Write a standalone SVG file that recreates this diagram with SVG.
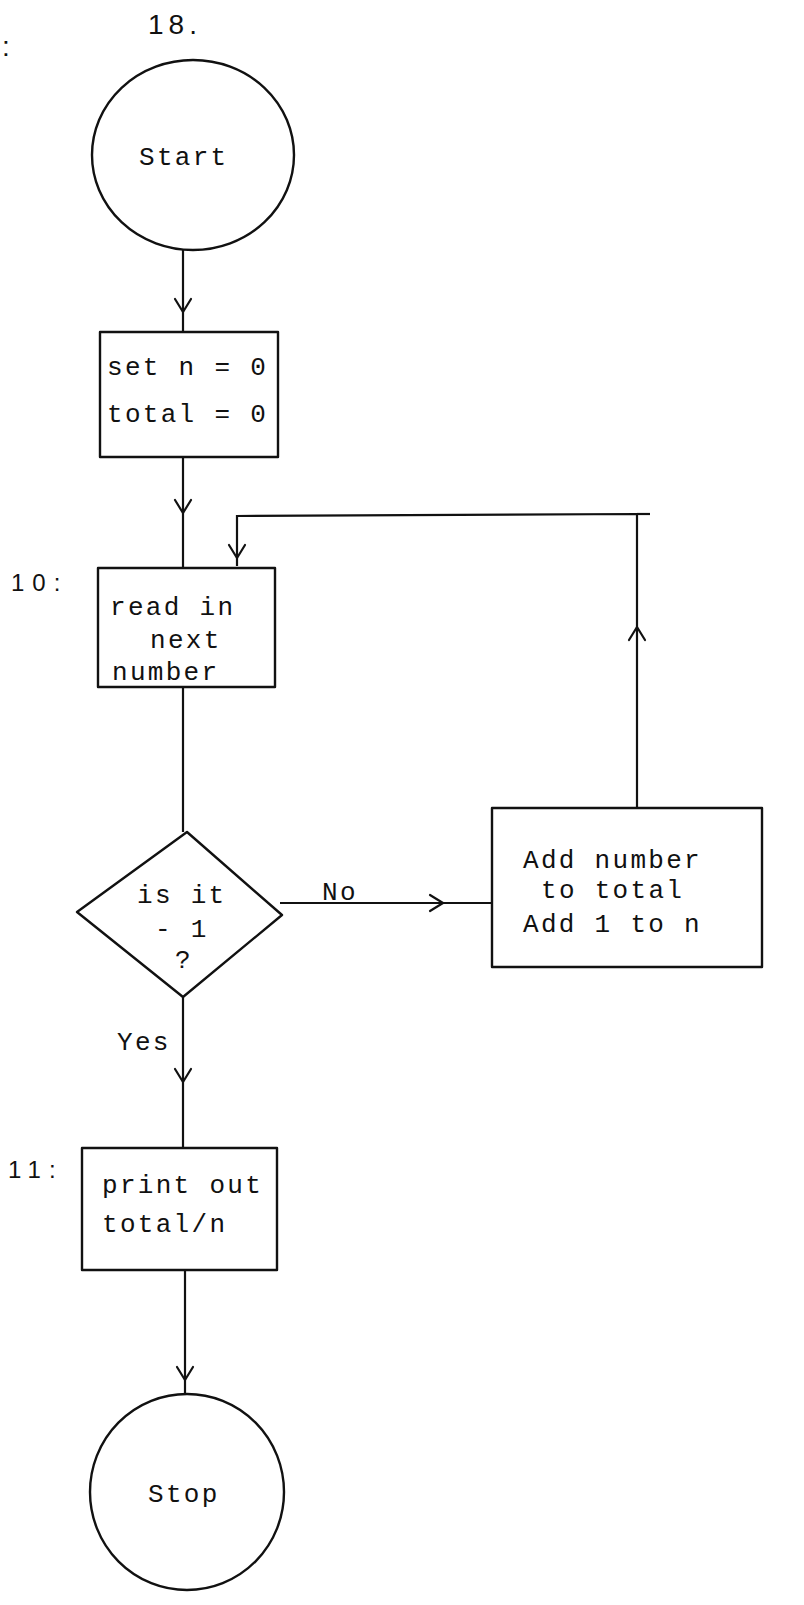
<svg xmlns="http://www.w3.org/2000/svg" width="804" height="1605" viewBox="0 0 804 1605">
<style>
.shape{fill:none;stroke:#111;stroke-width:2.4;stroke-linejoin:round}
.line{fill:none;stroke:#111;stroke-width:2.2}
.ah{fill:none;stroke:#111;stroke-width:2.2;stroke-linecap:round;stroke-linejoin:round}
.t{font-family:"Liberation Mono",monospace;font-size:26px;letter-spacing:2.3px;fill:#111}
.lab{font-family:"Liberation Sans",Arial,sans-serif;font-size:24px;letter-spacing:8px;fill:#111}
</style>
<defs>
<path id="ahd" class="ah" d="M-8,-13 L0,0 L8,-13"/>
</defs>
<rect width="804" height="1605" fill="#fff"/>
<g id="labels">
<text class="lab" x="148" y="34" style="font-size:28px;letter-spacing:5px">18.</text>
<text class="lab" x="2" y="56" style="font-size:28px">:</text>
<text class="lab" x="11" y="591">10:</text>
<text class="lab" x="8" y="1178">11:</text>
</g>
<g id="connectors">
<line class="line" x1="183" y1="250" x2="183" y2="332"/>
<use href="#ahd" transform="translate(183,312)"/>
<line class="line" x1="183" y1="457" x2="183" y2="568"/>
<use href="#ahd" transform="translate(183,513)"/>
<polyline class="line" points="637,808 637,514 237,516 237,566"/>
<use href="#ahd" transform="translate(237,558)"/>
<line class="line" x1="637" y1="514" x2="650" y2="514"/>
<use href="#ahd" transform="translate(637,627) rotate(180)"/>
<line class="line" x1="183" y1="687" x2="183" y2="832"/>
<line class="line" x1="280" y1="903" x2="492" y2="903"/>
<use href="#ahd" transform="translate(443,903) rotate(-90)"/>
<text class="t" x="322" y="900">No</text>
<line class="line" x1="183" y1="997" x2="183" y2="1148"/>
<use href="#ahd" transform="translate(183,1082)"/>
<text class="t" x="117" y="1050">Yes</text>
<line class="line" x1="185" y1="1270" x2="185" y2="1393"/>
<use href="#ahd" transform="translate(185,1380)"/>
</g>
<g id="start">
<ellipse class="shape" cx="193" cy="155" rx="101" ry="95"/>
<text class="t" x="139" y="165">Start</text>
</g>
<g id="init">
<rect class="shape" x="100" y="332" width="178" height="125"/>
<text class="t" x="107" y="375">set n = 0</text>
<text class="t" x="107" y="422">total = 0</text>
</g>
<g id="read">
<rect class="shape" x="98" y="568" width="177" height="119"/>
<text class="t" x="110" y="615">read in</text>
<text class="t" x="150" y="648">next</text>
<text class="t" x="112" y="680">number</text>
</g>
<g id="decision">
<polygon class="shape" points="187,832 282,915 183,997 77,912"/>
<text class="t" x="137" y="903">is it</text>
<text class="t" x="155" y="937">- 1</text>
<text class="t" x="175" y="968">?</text>
</g>
<g id="add">
<rect class="shape" x="492" y="808" width="270" height="159"/>
<text class="t" x="523" y="868">Add number</text>
<text class="t" x="541" y="898">to total</text>
<text class="t" x="523" y="932">Add 1 to n</text>
</g>
<g id="print">
<rect class="shape" x="82" y="1148" width="195" height="122"/>
<text class="t" x="102" y="1193">print out</text>
<text class="t" x="102" y="1232">total/n</text>
</g>
<g id="stop">
<ellipse class="shape" cx="187" cy="1492" rx="97" ry="98"/>
<text class="t" x="148" y="1502">Stop</text>
</g>
</svg>
